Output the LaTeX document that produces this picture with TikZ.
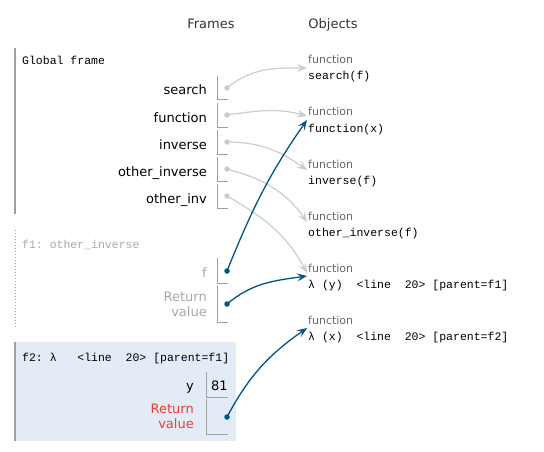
\documentclass[tikz,border=0pt]{standalone}
\usepackage{fontspec}
\setmainfont{DejaVu Sans}
\setsansfont{DejaVu Sans}
\setmonofont{Liberation Mono}
\usepackage{xcolor}
\usepackage{tikz}
\usetikzlibrary{arrows.meta}

\definecolor{ptBlue}{HTML}{005583}
\definecolor{ptRed}{HTML}{E93F34}
\definecolor{ptFrameFill}{HTML}{E2EBF6}
\definecolor{ptFaint}{HTML}{A8A8A8}
\definecolor{ptEdge}{HTML}{A0A0A0}
\definecolor{ptLink}{HTML}{CCCCCC}

\begin{document}
\begin{tikzpicture}[
    x=1pt, y=-1pt,
    font=\fontsize{13}{15}\selectfont,
    header/.style={anchor=base, inner sep=0pt, text=black!80},
    frameTitle/.style={anchor=base west, inner sep=0pt, font=\ttfamily\fontsize{11.5}{13}\selectfont},
    varName/.style={anchor=base east, inner sep=0pt},
    retName/.style={anchor=base east, inner sep=0pt, align=right},
    frameEdge/.style={draw=ptEdge, line width=1.5pt},
    valBox/.style={draw=ptEdge, line width=1pt},
    refDot/.style={circle, fill=ptLink, inner sep=0pt, minimum size=5.5pt},
    liveDot/.style={circle, fill=ptBlue, inner sep=0pt, minimum size=5.5pt},
    objType/.style={anchor=base west, inner sep=0pt, text=black!60, font=\fontsize{11}{13}\selectfont},
    objName/.style={anchor=base west, inner sep=0pt, font=\ttfamily\fontsize{11.5}{13}\selectfont},
    refArrow/.style={-{Stealth[length=10pt, width=8pt, inset=4pt]}, line width=1.2pt, draw=ptLink},
    liveArrow/.style={-{Stealth[length=10pt, width=8pt, inset=4pt]}, line width=1.3pt, draw=ptBlue}
]
\useasboundingbox (0,0) rectangle (544,452);

% Headers
\node[header] (hFrames) at (211,29) {Frames};
\node[header] (hObjects) at (333,29) {Objects};

% Global frame
\draw[frameEdge] (15,48) -- (15,214);
\node[frameTitle] (gTitle) at (22,65) {Global frame};

\node[varName] (vSearch) at (207,95) {search};
\draw[valBox] (217,76) |- (228,100);
\node[refDot] (dSearch) at (227,88) {};

\node[varName] (vFunction) at (207,122) {function};
\draw[valBox] (217,103) |- (228,127);
\node[refDot] (dFunction) at (227,115) {};

\node[varName] (vInverse) at (207,149) {inverse};
\draw[valBox] (217,130) |- (228,154);
\node[refDot] (dInverse) at (227,142) {};

\node[varName] (vOtherInverse) at (207,176) {other\_inverse};
\draw[valBox] (217,157) |- (228,181);
\node[refDot] (dOtherInverse) at (227,169) {};

\node[varName] (vOtherInv) at (207,203) {other\_inv};
\draw[valBox] (217,184) |- (228,208);
\node[refDot] (dOtherInv) at (227,196) {};

% Frame f1
\draw[draw=ptEdge, line width=1pt, dotted] (15,230) -- (15,328);
\node[frameTitle, text=ptFaint] (f1Title) at (22,248) {f1:~other\_inverse};

\node[varName, text=ptFaint] (vF) at (207,277) {f};
\draw[valBox] (217,258) |- (228,283);
\node[liveDot] (dF) at (227,271) {};

\node[retName, text=ptFaint] (vRetOne) at (207,316) {Return\\value};
\draw[valBox] (217,286) |- (228,322);
\node[liveDot] (dRetOne) at (227,304) {};

% Frame f2
\fill[ptFrameFill] (15,342) rectangle (236,441);
\draw[frameEdge] (15,342) -- (15,441);
\node[frameTitle] (f2Title) at (22,361) {f2:~λ~~~<line~~20>~[parent=f1]};

\node[varName] (vY) at (194,390) {y};
\draw[valBox] (206,372) |- (228,397);
\node[anchor=base west, inner sep=0pt] (yVal) at (211,390) {81};

\node[retName, text=ptRed] (vRetTwo) at (194,428) {Return\\value};
\draw[valBox] (206,399) |- (228,434);
\node[liveDot] (dRetTwo) at (227,417) {};

% Objects
\node[objType] (oSearchType) at (308,64) {function};
\node[objName] (oSearchName) at (308,80) {search(f)};
\coordinate (oSearch) at (307,68);

\node[objType] (oFunctionType) at (308,116) {function};
\node[objName] (oFunctionName) at (308,132) {function(x)};
\coordinate (oFunction) at (307,116);
\coordinate (oFunctionB) at (307,120);

\node[objType] (oInverseType) at (308,168) {function};
\node[objName] (oInverseName) at (308,184) {inverse(f)};
\coordinate (oInverse) at (307,170);

\node[objType] (oOtherType) at (308,220) {function};
\node[objName] (oOtherName) at (308,236) {other\_inverse(f)};
\coordinate (oOther) at (307,222);

\node[objType] (oLamYType) at (308,272) {function};
\node[objName] (oLamYName) at (308,288) {λ~(y)~~<line~~20>~[parent=f1]};
\coordinate (oLamY) at (307,273);
\coordinate (oLamYB) at (307,276);

\node[objType] (oLamXType) at (308,324) {function};
\node[objName] (oLamXName) at (308,340) {λ~(x)~~<line~~20>~[parent=f2]};
\coordinate (oLamX) at (307,328);

% Global references
\draw[refArrow] (dSearch.center) to[out=40, in=180] (oSearch);
\draw[refArrow] (dFunction.center) to[out=8, in=165] (oFunction);
\draw[refArrow] (dInverse.center) to[out=0, in=145] (oInverse);
\draw[refArrow] (dOtherInverse.center) to[out=-15, in=125] (oOther);
\draw[refArrow] (dOtherInv.center) to[out=-30, in=118] (oLamY);

% Frame references
\draw[liveArrow] (dF.center) to[out=68, in=235] (oFunctionB);
\draw[liveArrow] (dRetOne.center) to[out=40, in=188] (oLamYB);
\draw[liveArrow] (dRetTwo.center) to[out=62, in=215] (oLamX);

\end{tikzpicture}
\end{document}
